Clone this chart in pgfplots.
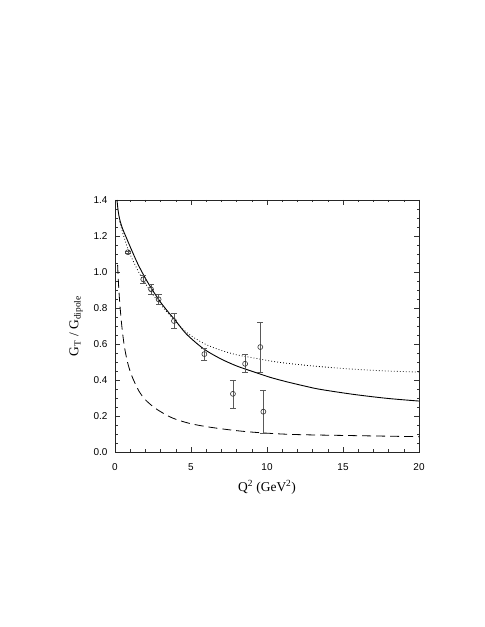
\documentclass[border=0pt]{standalone}
\usepackage{fontspec}
\setmainfont{Liberation Serif}
\setsansfont{Liberation Sans}
\usepackage{pgfplots}
\pgfplotsset{compat=1.18}
\begin{document}
\begin{tikzpicture}
\path[use as bounding box] (0,0) rectangle (485bp,627bp);
\begin{axis}[
  at={(115bp,175bp)}, anchor=south west,
  scale only axis, width=304bp, height=252bp,
  xmin=0, xmax=20, ymin=0, ymax=1.4,
  xtick={0,5,10,15,20},
  ytick={0,0.2,0.4,0.6,0.8,1.0,1.2,1.4},
  minor x tick num=4, minor y tick num=3,
  tick align=inside, xtick pos=both, ytick pos=both,
  xticklabel pos=lower, yticklabel pos=left,
  major tick length=5bp, minor tick length=2.5bp,
  every tick/.style={black!80, line width=0.5bp},
  axis line style={black!85, line width=0.6bp},
  /pgf/number format/assume math mode=true,
  tick label style={font=\sffamily\fontsize{10}{11}\selectfont},
  yticklabel style={xshift=-4bp, /pgf/number format/fixed, /pgf/number format/fixed zerofill, /pgf/number format/precision=1},
  xticklabel style={yshift=-8bp, /pgf/number format/fixed, /pgf/number format/precision=0},
  xlabel={Q\textsuperscript{2} (GeV\textsuperscript{2})},
  ylabel={G\textsubscript{T} / G\textsubscript{dipole}},
  label style={font=\fontsize{13.5}{15}\selectfont},
  xlabel style={at={(axis description cs:0.5,-0.139)}, anchor=center},
  ylabel style={at={(axis description cs:-0.128,0.5)}, anchor=center},
  clip=true,
]
% solid curve
\addplot[black, line width=0.9bp, smooth, tension=0.5] coordinates {
(0.13,1.40) (0.2,1.345) (0.3,1.295) (0.5,1.24) (0.7,1.20) (1.0,1.14)
(1.5,1.045) (2.0,0.965) (2.5,0.895) (3.0,0.832) (3.5,0.778) (4.0,0.728)
(4.7,0.655) (5.8,0.575) (6.9,0.52) (8.0,0.478) (9.1,0.446) (10.2,0.415)
(11.3,0.39) (12.5,0.366) (13.5,0.348) (15.7,0.32) (17.9,0.298) (20,0.283)
};
% dotted curve
\addplot[black, line width=0.8bp, dash pattern=on 0.8bp off 2.2bp, smooth, tension=0.5] coordinates {
(0.3,1.28) (0.5,1.22) (0.8,1.14) (1.2,1.06) (1.75,0.97) (2.4,0.885)
(3.0,0.82) (3.7,0.75) (4.7,0.665) (5.8,0.605) (6.9,0.567) (8.0,0.54)
(9.1,0.523) (10.2,0.506) (11.3,0.493) (13.5,0.474) (15.7,0.46)
(17.9,0.45) (20,0.444)
};
% dashed curve
\addplot[black, line width=0.8bp, dash pattern=on 9bp off 5bp, smooth, tension=0.5] coordinates {
(0.17,1.04) (0.24,0.92) (0.33,0.81) (0.46,0.69) (0.62,0.585) (0.82,0.5)
(1.05,0.435) (1.3,0.385) (1.6,0.335) (2.0,0.29) (2.7,0.24) (3.75,0.19)
(4.95,0.158) (6.47,0.135) (8.66,0.113) (11.5,0.098) (15.7,0.091) (20,0.085)
};
% data
\addplot[only marks, mark=o, mark size=2.5bp,
  mark options={black!80, fill=white, line width=0.6bp},
  error bars/.cd, y dir=both, y explicit,
  error bar style={black!65, line width=0.6bp},
  error mark options={rotate=90, mark size=3bp, black!65, line width=0.6bp}]
coordinates {
(0.85,1.11) +- (0,0.005)
(1.86,0.959) +- (0,0.02)
(2.37,0.904) +- (0,0.028)
(2.87,0.848) +- (0,0.03)
(3.88,0.728) +- (0,0.041)
(5.88,0.544) +- (0,0.033)
(7.76,0.323) +- (0,0.078)
(8.56,0.490) +- (0,0.05)
(9.56,0.583) +- (0,0.139)
(9.76,0.224) +- (0,0.12)
};
\end{axis}
\end{tikzpicture}
\end{document}
